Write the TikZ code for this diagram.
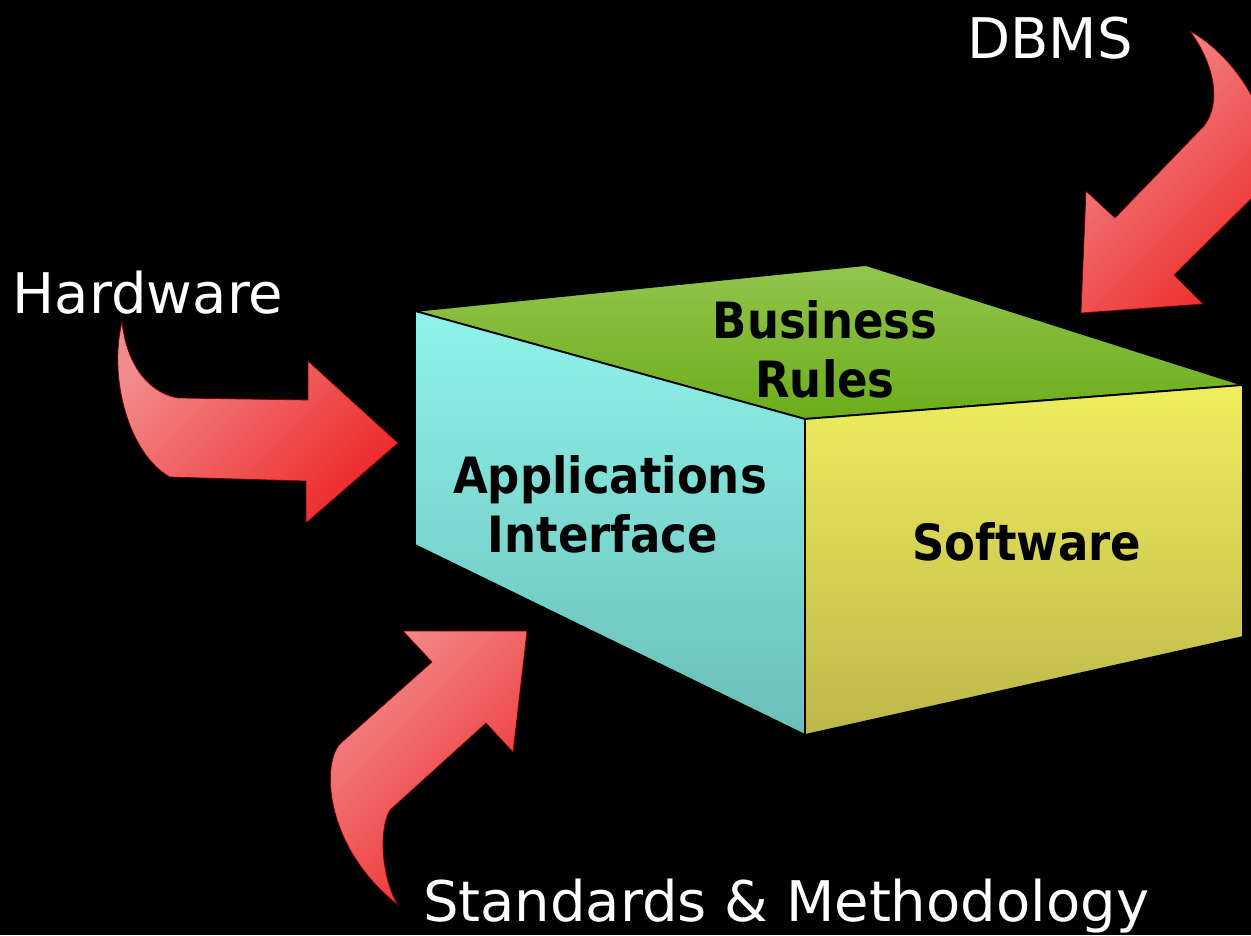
\documentclass[tikz,border=0pt]{standalone}
\usepackage{fontspec}
\newfontfamily\labelfont[BoldFont={DejaVu Sans Condensed Bold}]{DejaVu Sans Condensed}
\newfontfamily\outerfont{DejaVu Sans}
\definecolor{topA}{HTML}{93C54C}
\definecolor{topB}{HTML}{6BAD1A}
\definecolor{leftA}{HTML}{8EF3EC}
\definecolor{leftB}{HTML}{6BBFB6}
\definecolor{rightA}{HTML}{EEEE5E}
\definecolor{rightB}{HTML}{BDB74A}
\definecolor{arrowA}{HTML}{F28C8C}
\definecolor{arrowB}{HTML}{EE2A2A}
\begin{document}
\begin{tikzpicture}[x=1pt,y=-1pt,
  face/.style={draw=black,line width=1.8pt,line join=round},
  bigarrow/.style={draw=red!45!black,line width=0.7pt,line join=round,
    top color=arrowA,bottom color=arrowB,shading angle=45},
  outlab/.style={font=\outerfont\fontsize{56}{58}\selectfont,text=white,inner sep=0pt,anchor=base},
  boxlab/.style={font=\labelfont\bfseries\fontsize{50}{52}\selectfont,text=black,inner sep=0pt,anchor=base}]
% black page
\fill[black] (0,0) rectangle (1251,935);
\useasboundingbox (0,0) rectangle (1251,935);
\clip (0,0) rectangle (1251,935);

% the block: top, left and right faces
\path[face,top color=topA,bottom color=topB]
  (415,311) -- (866,265) -- (1243,385) -- (805,419) -- cycle;
\path[face,top color=leftA,bottom color=leftB]
  (415,311) -- (805,419) -- (805,735) -- (415,545) -- cycle;
\path[face,top color=rightA,bottom color=rightB]
  (805,419) -- (1243,385) -- (1243,637) -- (805,735) -- cycle;

% face labels
\node[boxlab] (bus) at (825,338) {Business};
\node[boxlab] (rul) at (825,397) {Rules};
\node[boxlab] (app) at (610,493) {Applications};
\node[boxlab] (itf) at (603,552) {Interface};
\node[boxlab] (sw)  at (1027,560) {Software};

% curved block arrows
% Hardware
\path[bigarrow]
  (122,322) .. controls (126,360) and (145,392) .. (178,398)
  -- (308,400) -- (308,361) -- (398,443) -- (306,523) -- (306,481)
  -- (170,477) .. controls (130,455) and (108,380) .. (122,322) -- cycle;
% DBMS
\path[bigarrow]
  (1190,31) .. controls (1245,62) and (1285,140) .. (1262,188)
  -- (1174,275) -- (1203,304) -- (1081,313) -- (1086,191) -- (1115,218)
  -- (1203,127) .. controls (1222,105) and (1215,65) .. (1190,31) -- cycle;
% Standards & Methodology
\path[bigarrow]
  (398,905) .. controls (322,845) and (322,760) .. (341,743)
  -- (432,662) -- (403,631) -- (527,631) -- (513,752) -- (486,723)
  -- (390,810) .. controls (378,830) and (382,880) .. (398,905) -- cycle;

% outside labels
\node[outlab] (hw)   at (148,313) {Hardware};
\node[outlab] (dbms) at (1050,58) {DBMS};
\node[outlab] (std)  at (786,921) {Standards \& Methodology};
\end{tikzpicture}
\end{document}
